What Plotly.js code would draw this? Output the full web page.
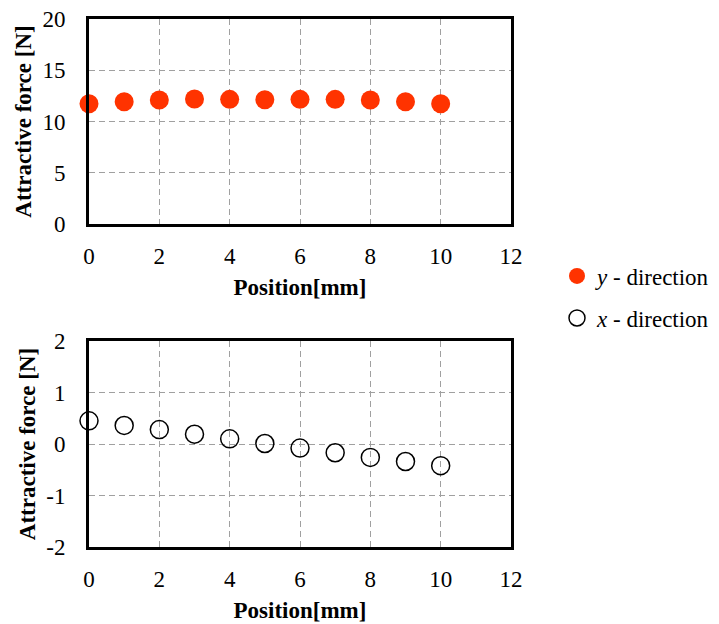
<!DOCTYPE html>
<html><head><meta charset="utf-8">
<script src="https://cdn.plot.ly/plotly-3.0.1.min.js"></script>
<style>html,body{margin:0;padding:0;background:#fff}</style>
</head><body>
<div id="chart" style="width:719px;height:624px"></div>
<script>
const positions = [0,1,2,3,4,5,6,7,8,9,10];
const yDirection = [11.74,11.93,12.10,12.20,12.16,12.12,12.16,12.16,12.10,11.93,11.74];
const xDirection = [0.45,0.36,0.28,0.19,0.10,0.01,-0.08,-0.17,-0.26,-0.34,-0.42];
const xTickVals = [0,2,4,6,8,10,12];
const xTickText = ['0','2','4','6','8','10','12'];
const topTickVals = [0,5,10,15,20];
const topTickText = ['0','5','10','15','20'];
const bottomTickVals = [-2,-1,0,1,2];
const bottomTickText = ['-2','-1','0','1','2'];
const yName = '<i>y</i> - direction';
const xName = '<i>x</i> - direction';

const FONT = 'Liberation Serif';
const FS = 23;
const traces = [
  {x: positions, y: yDirection, xaxis:'x', yaxis:'y', type:'scatter', mode:'markers', name:yName,
   cliponaxis:false, legend:'legend',
   marker:{symbol:'circle', size:19, color:'#ff3300'}},
  {x: positions, y: xDirection, xaxis:'x2', yaxis:'y2', type:'scatter', mode:'markers', name:xName,
   cliponaxis:false, legend:'legend2',
   marker:{symbol:'circle-open', size:18, color:'#000', line:{width:1.5, color:'#000'}}}
];
function xa(anchor){
  return {domain:[89/719, 511/719], range:[0,12], tickmode:'array', tickvals:xTickVals, ticktext:xTickText, anchor:anchor,
    showline:true, mirror:true, linecolor:'#000', linewidth:3, zeroline:false,
    showgrid:true, gridcolor:'#a0a0a0', gridwidth:1, griddash:'6px,4px',
    ticks:'', ticklabelstandoff:9, tickfont:{family:FONT, size:FS, color:'#000'},
    title:{text:'<b>Position[mm]</b>', font:{family:FONT, size:FS, color:'#000'}, standoff:12}};
}
function ya(anchor, dom, rng, tv, tt){
  return {domain:dom, range:rng, tickmode:'array', tickvals:tv, ticktext:tt, anchor:anchor,
    showline:true, mirror:true, linecolor:'#000', linewidth:3, zeroline:false,
    showgrid:true, gridcolor:'#a0a0a0', gridwidth:1, griddash:'6px,4px',
    ticks:'', ticklabelstandoff:16, tickfont:{family:FONT, size:FS, color:'#000'},
    title:{text:'<b>Attractive force [N]</b>', font:{family:FONT, size:FS, color:'#000'}, standoff:5}};
}
const layout = {
  width:719, height:624, margin:{l:0,r:0,t:0,b:0},
  font:{family:FONT},
  paper_bgcolor:'#fff', plot_bgcolor:'#fff', showlegend:true,
  xaxis: xa('y'),
  yaxis: ya('x', [1-224/624, 1-19/624], [0,20], topTickVals, topTickText),
  xaxis2: xa('y2'),
  yaxis2: ya('x2', [1-547/624, 1-341/624], [-2,2], bottomTickVals, bottomTickText),
  legend:{x:557/719, y:1-276/624, xanchor:'left', yanchor:'middle', bgcolor:'rgba(0,0,0,0)',
    font:{family:FONT, size:FS, color:'#000'}},
  legend2:{x:557/719, y:1-318/624, xanchor:'left', yanchor:'middle', bgcolor:'rgba(0,0,0,0)',
    font:{family:FONT, size:FS, color:'#000'}}
};
Plotly.newPlot('chart', traces, layout, {staticPlot:true});
</script>
</body></html>
